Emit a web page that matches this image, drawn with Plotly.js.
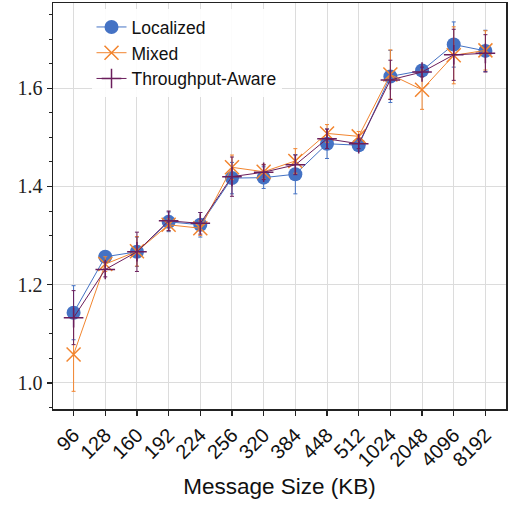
<!DOCTYPE html>
<html>
<head>
<meta charset="utf-8">
<script src="https://cdn.plot.ly/plotly-3.0.1.min.js"></script>
<style>html,body{margin:0;padding:0;background:#fff;}#chart{width:512px;height:506px;}</style>
</head>
<body>
<div id="chart"></div>
<script>
const messageSizes = ["96","128","160","192","224","256","320","384","448","512","1024","2048","4096","8192"];

const localizedMean = [1.143,1.257,1.267,1.328,1.322,1.417,1.418,1.425,1.487,1.484,1.624,1.636,1.689,1.676];
const localizedErr  = [0.055,0.006,0.030,0.020,0.025,0.032,0.022,0.040,0.030,0.010,0.053,0.012,0.046,0.042];

const mixedMean = [1.058,1.242,1.268,1.322,1.315,1.439,1.430,1.452,1.508,1.502,1.628,1.597,1.667,1.677];
const mixedErr  = [0.075,0.015,0.030,0.012,0.015,0.025,0.015,0.025,0.018,0.010,0.050,0.040,0.058,0.040];

const throughputMean = [1.133,1.231,1.267,1.330,1.325,1.420,1.429,1.444,1.497,1.487,1.617,1.633,1.668,1.671];
const throughputErr  = [0.055,0.015,0.040,0.020,0.022,0.040,0.015,0.020,0.020,0.010,0.040,0.010,0.052,0.038];

const seriesNames = ["Localized","Mixed","Throughput-Aware"];
const xTitle = "Message Size (KB)";

const blue = "#4472c4", orange = "#f2852f", purple = "#6b1e5c";

function mk(name, y, err, color, symbol, filled) {
  return {
    type: "scatter", mode: "lines+markers", name: name,
    x: messageSizes, y: y,
    line: {color: color, width: 1},
    marker: filled ? {symbol: symbol, size: 14, color: color, line: {width: 0}}
                   : {symbol: symbol, size: 14, color: color, line: {color: color, width: 1.5}},
    error_y: {type: "data", array: err, visible: true, color: color, thickness: 1, width: 2}
  };
}

const data = [
  mk(seriesNames[0], localizedMean, localizedErr, blue, "circle", true),
  mk(seriesNames[1], mixedMean, mixedErr, orange, "x-thin-open", false),
  mk(seriesNames[2], throughputMean, throughputErr, purple, "cross-thin-open", false)
];

const layout = {
  width: 512, height: 506,
  margin: {l: 53, r: 6, t: 3, b: 97},
  paper_bgcolor: "#fff", plot_bgcolor: "#fff",
  showlegend: true,
  legend: {
    x: 0.085, y: 0.985, xanchor: "left", yanchor: "top",
    bgcolor: "rgba(255,255,255,0.9)", borderwidth: 0,
    font: {family: "Liberation Sans, Arial, sans-serif", size: 17.5, color: "#111"}
  },
  xaxis: {
    type: "category", range: [-0.65, 13.65],
    tickangle: -45,
    tickfont: {family: "Liberation Sans, Arial, sans-serif", size: 20, color: "#111"},
    ticks: "outside", ticklen: 5, tickwidth: 1.2, tickcolor: "#222",
    showline: true, linecolor: "#222", linewidth: 1.5, mirror: true,
    showgrid: true, gridcolor: "#dcdcdc", gridwidth: 1,
    zeroline: false,
    title: {text: xTitle, font: {family: "Liberation Sans, Arial, sans-serif", size: 22.5, color: "#111"}, standoff: 8}
  },
  yaxis: {
    range: [0.947, 1.7735],
    tick0: 1.0, dtick: 0.2, tickformat: ".1f",
    tickfont: {family: "Liberation Serif, DejaVu Serif, serif", size: 20, color: "#222"},
    ticks: "outside", ticklen: 5, tickwidth: 1.2, tickcolor: "#222",
    minor: {dtick: 0.05, tick0: 1.0, ticks: "outside", ticklen: 3, tickwidth: 1, tickcolor: "#222", showgrid: false},
    showline: true, linecolor: "#222", linewidth: 1.5, mirror: true,
    showgrid: true, gridcolor: "#dcdcdc", gridwidth: 1,
    zeroline: false
  }
};

Plotly.newPlot("chart", data, layout, {displayModeBar: false, staticPlot: true});
</script>
</body>
</html>
